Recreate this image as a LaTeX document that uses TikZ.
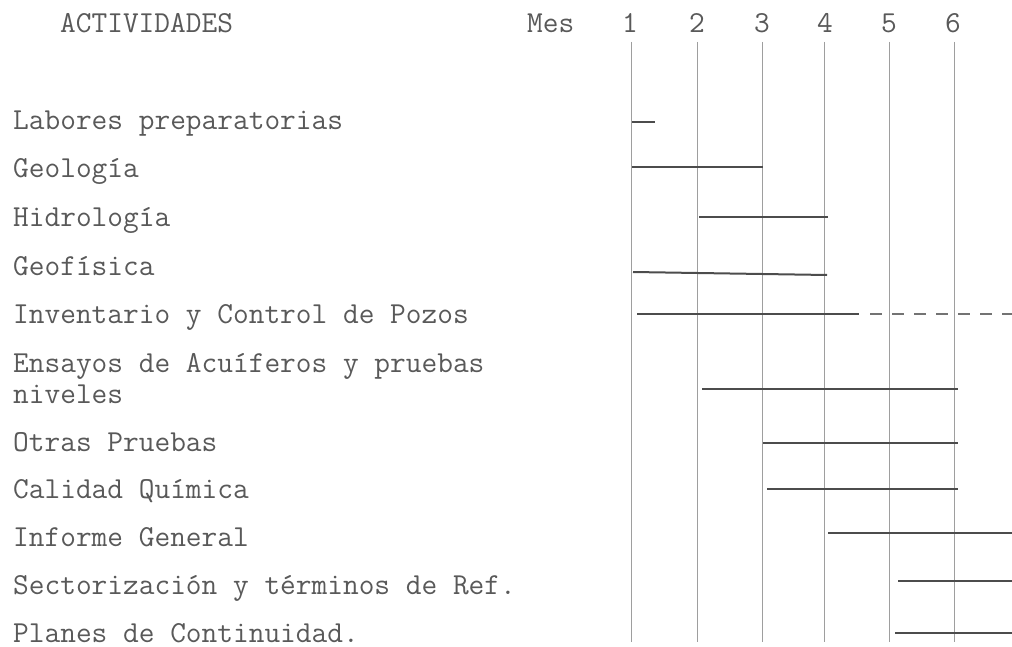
\documentclass[tikz,border=0pt]{standalone}
\usepackage{fontspec}
\begin{document}
\begin{tikzpicture}[x=1pt,y=-1pt,
  lbl/.style={anchor=base west,inner sep=0pt,text=black!65,font=\ttfamily\fontsize{30.5}{31}\selectfont},
  hdr/.style={anchor=base,inner sep=0pt,text=black!65,font=\ttfamily\fontsize{30.5}{31}\selectfont},
  grid/.style={draw=black!38,line width=1pt},
  bar/.style={draw=black!70,line width=2pt},
  plan/.style={draw=black!55,line width=2pt,dash pattern=on 12pt off 10pt}]
\useasboundingbox (0,0) rectangle (1012,647);
% headers
\node[lbl] (act) at (60,33) {ACTIVIDADES};
\node[lbl] (mes) at (527,33) {Mes};
\node[hdr] (m1) at (630,33) {1};
\node[hdr] (m2) at (697,33) {2};
\node[hdr] (m3) at (762,33) {3};
\node[hdr] (m4) at (825,33) {4};
\node[hdr] (m5) at (889,33) {5};
\node[hdr] (m6) at (953,33) {6};
\coordinate (top) at (0,42);
\coordinate (bot) at (0,642);
\foreach \m/\x in {1/631,2/697,3/762,4/824,5/889,6/954}{
  \coordinate (g\m) at (\x,0);
  \draw[grid] (g\m |- top) -- (g\m |- bot);
}
% activities
\node[lbl] (a1) at (13,130) {Labores preparatorias};
\node[lbl] (a2) at (13,178) {Geología};
\node[lbl] (a3) at (13,227) {Hidrología};
\node[lbl] (a4) at (13,275) {Geofísica};
\node[lbl] (a5) at (13,323) {Inventario y Control de Pozos};
\node[lbl,align=left] (a6) at (13,403) {Ensayos de Acuíferos y pruebas\\niveles};
\node[lbl] (a7) at (13,451) {Otras Pruebas};
\node[lbl] (a8) at (13,498) {Calidad Química};
\node[lbl] (a9) at (13,546) {Informe General};
\node[lbl] (a10) at (13,594) {Sectorización y términos de Ref.};
\node[lbl] (a11) at (13,642) {Planes de Continuidad.};
% bars
\draw[bar] (632,122) -- (655,122);
\draw[bar] (632,167) -- (763,167);
\draw[bar] (699,217) -- (828,217);
\draw[bar] (633,272) -- (827,275);
\draw[bar] (637,314) -- (859,314);
\draw[plan] (870,314) -- (1012,314);
\draw[bar] (702,389) -- (958,389);
\draw[bar] (763,443) -- (958,443);
\draw[bar] (767,489) -- (958,489);
\draw[bar] (828,533) -- (1012,533);
\draw[bar] (898,581) -- (1012,581);
\draw[bar] (895,633) -- (1012,633);
\end{tikzpicture}
\end{document}
